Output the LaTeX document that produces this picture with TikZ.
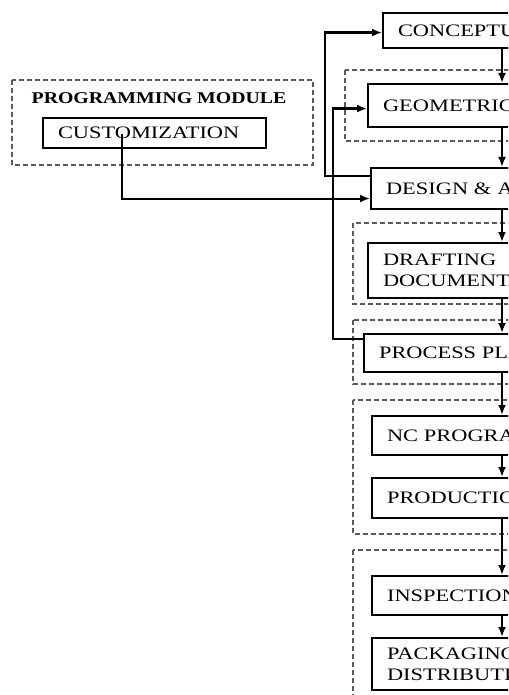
\documentclass[tikz,border=0pt]{standalone}
\usepackage{fontspec}
\setmainfont{Liberation Serif}
\newfontfamily\boxfont[FakeStretch=1.28]{Liberation Serif}
\newfontfamily\titlefont[FakeStretch=1.2]{Liberation Serif}
\usetikzlibrary{arrows.meta}

\begin{document}
\begin{tikzpicture}[x=1pt,y=-1pt,->,>={Latex[length=10pt,width=8pt]},line width=2.1pt]
\tikzstyle{stage}=[draw=black,anchor=north west,minimum width=260pt,text width=230pt,align=left,inner xsep=15pt,inner ysep=2pt,font=\boxfont\fontsize{17.5}{21}\selectfont]
\tikzstyle{group}=[-,draw=black!65,dashed,dash pattern=on 5pt off 3pt,line width=1.5pt]
\useasboundingbox (0,0) rectangle (508,695);
\clip (0,0) rectangle (508,695);
% dashed groups
\draw[group] (12,80) rectangle (313,165);
\draw[group] (345,70) rectangle (540,141);
\draw[group] (353,223) rectangle (540,304);
\draw[group] (353,320) rectangle (540,384);
\draw[group] (353,400) rectangle (540,534);
\draw[group] (353,550) rectangle (540,720);
\node[font=\titlefont\bfseries\fontsize{16.5}{19}\selectfont] (title) at (159,98) {PROGRAMMING MODULE};
\node[stage,minimum width=223pt,text width=193pt,minimum height=30pt] (cust) at (42,117) {CUSTOMIZATION};
% stages
\node[stage,minimum height=35pt] (concept) at (382,12) {CONCEPTU};
\node[stage,minimum height=43pt] (geom) at (367,83) {GEOMETRIC};
\node[stage,minimum height=41pt] (design) at (370,167) {DESIGN \& A};
\node[stage,minimum height=55pt] (draft) at (367,242) {DRAFTING\\DOCUMENTA};
\node[stage,minimum height=38pt] (plan) at (363,333) {PROCESS PLA};
\node[stage,minimum height=39pt] (ncprog) at (371,415) {NC PROGRA};
\node[stage,minimum height=40pt] (prod) at (371,477) {PRODUCTIO};
\node[stage,minimum height=39pt] (inspect) at (371,575) {INSPECTION};
\node[stage,minimum height=52pt] (pack) at (371,637) {PACKAGING\\DISTRIBUTIO};
\coordinate (col) at (502,0);
\foreach \a/\b in {concept/geom,geom/design,design/draft,draft/plan,plan/ncprog,ncprog/prod,prod/inspect,inspect/pack}
  \draw (\a.south -| col) -- (\b.north -| col);
% feedback
\draw ([yshift=13pt]design.west) -- ++(-45,0) |- ([yshift=-2pt]concept.west);
\draw ([yshift=-6pt]plan.north west) -- ++(-30,0) |- ([yshift=-3pt]geom.west);
\draw ([xshift=-33pt,yshift=15pt]cust.south) |- ([yshift=-10pt]design.west);
\end{tikzpicture}
\end{document}
